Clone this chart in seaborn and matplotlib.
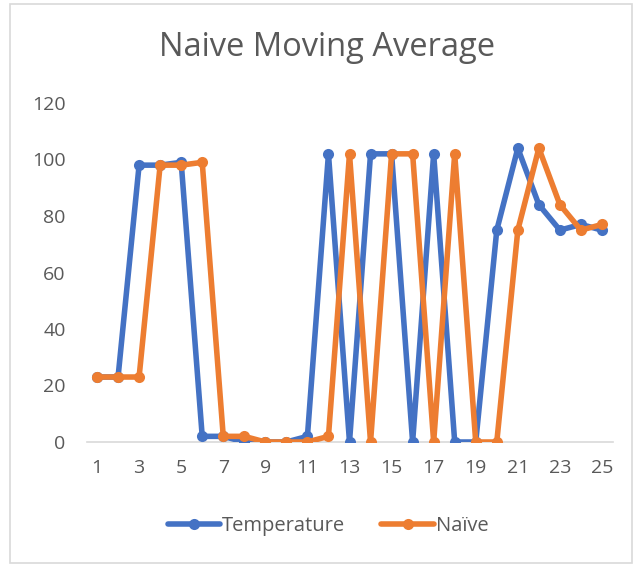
import matplotlib
matplotlib.use("Agg")
import matplotlib.pyplot as plt
import seaborn as sns
import pandas as pd
from matplotlib.patches import Rectangle
from matplotlib.lines import Line2D

periods = list(range(1, 26))
temperature = [23, 23, 98, 98, 99, 2, 2, 0, 0, 0, 2, 102, 0, 102, 102, 0, 102, 0, 0, 75, 104, 84, 75, 77, 75]
naive = [23, 23, 23, 98, 98, 99, 2, 2, 0, 0, 0, 2, 102, 0, 102, 102, 0, 102, 0, 0, 75, 104, 84, 75, 77]
series_names = ["Temperature", "Naïve"]
colors = ["#4472C4", "#ED7D31"]
y_ticks = [0, 20, 40, 60, 80, 100, 120]
x_ticks = list(range(1, 26, 2))
title = "Naive Moving Average"

df = pd.DataFrame({
    "Period": periods * 2,
    "Value": temperature + naive,
    "Series": [series_names[0]] * len(periods) + [series_names[1]] * len(periods),
})

sns.set_theme(style="white")
plt.rcParams["font.family"] = ["Open Sans", "DejaVu Sans"]

fig = plt.figure(figsize=(6.34, 5.65), dpi=100)
ax = fig.add_axes([86.5 / 634, 1 - 442 / 565, (612.5 - 86.5) / 634, (442 - 103) / 565])

sns.lineplot(data=df, x="Period", y="Value", hue="Series", palette=colors,
             marker="o", markersize=8, markeredgewidth=0, linewidth=4,
             ax=ax, legend=False)

ax.set_xlim(0.5, 25.5)
ax.set_ylim(0, 120)
ax.set_xticks(x_ticks)
ax.set_yticks(y_ticks)
ax.set_xlabel("")
ax.set_ylabel("")
for s in ["top", "right", "left"]:
    ax.spines[s].set_visible(False)
ax.spines["bottom"].set_color("#D9D9D9")
ax.spines["bottom"].set_linewidth(1.2)
ax.spines["bottom"].set_zorder(0)
ax.tick_params(axis="both", length=0, labelsize=14, colors="#595959")
ax.tick_params(axis="y", pad=15)
ax.tick_params(axis="x", pad=12)
ax.set_facecolor("none")

fig.text(327 / 634, 1 - 48 / 565, title, ha="center", va="center", fontsize=23.5, color="#595959")

handles = [Line2D([0], [0], color=c, lw=4, marker="o", markersize=8, markeredgewidth=0) for c in colors]
fig.legend(handles, series_names, loc="center", bbox_to_anchor=(328 / 634, 1 - 526 / 565), ncol=2,
           frameon=False, fontsize=14.5, handlelength=2.6, handletextpad=0.1, columnspacing=1.8,
           labelcolor="#595959")

fig.patches.append(Rectangle((10 / 634, 1 - 563 / 565), 622 / 634, 559 / 565, transform=fig.transFigure,
                             fill=False, edgecolor="#D9D9D9", linewidth=1.2))

fig.savefig("out.png", dpi=100, facecolor="white")
